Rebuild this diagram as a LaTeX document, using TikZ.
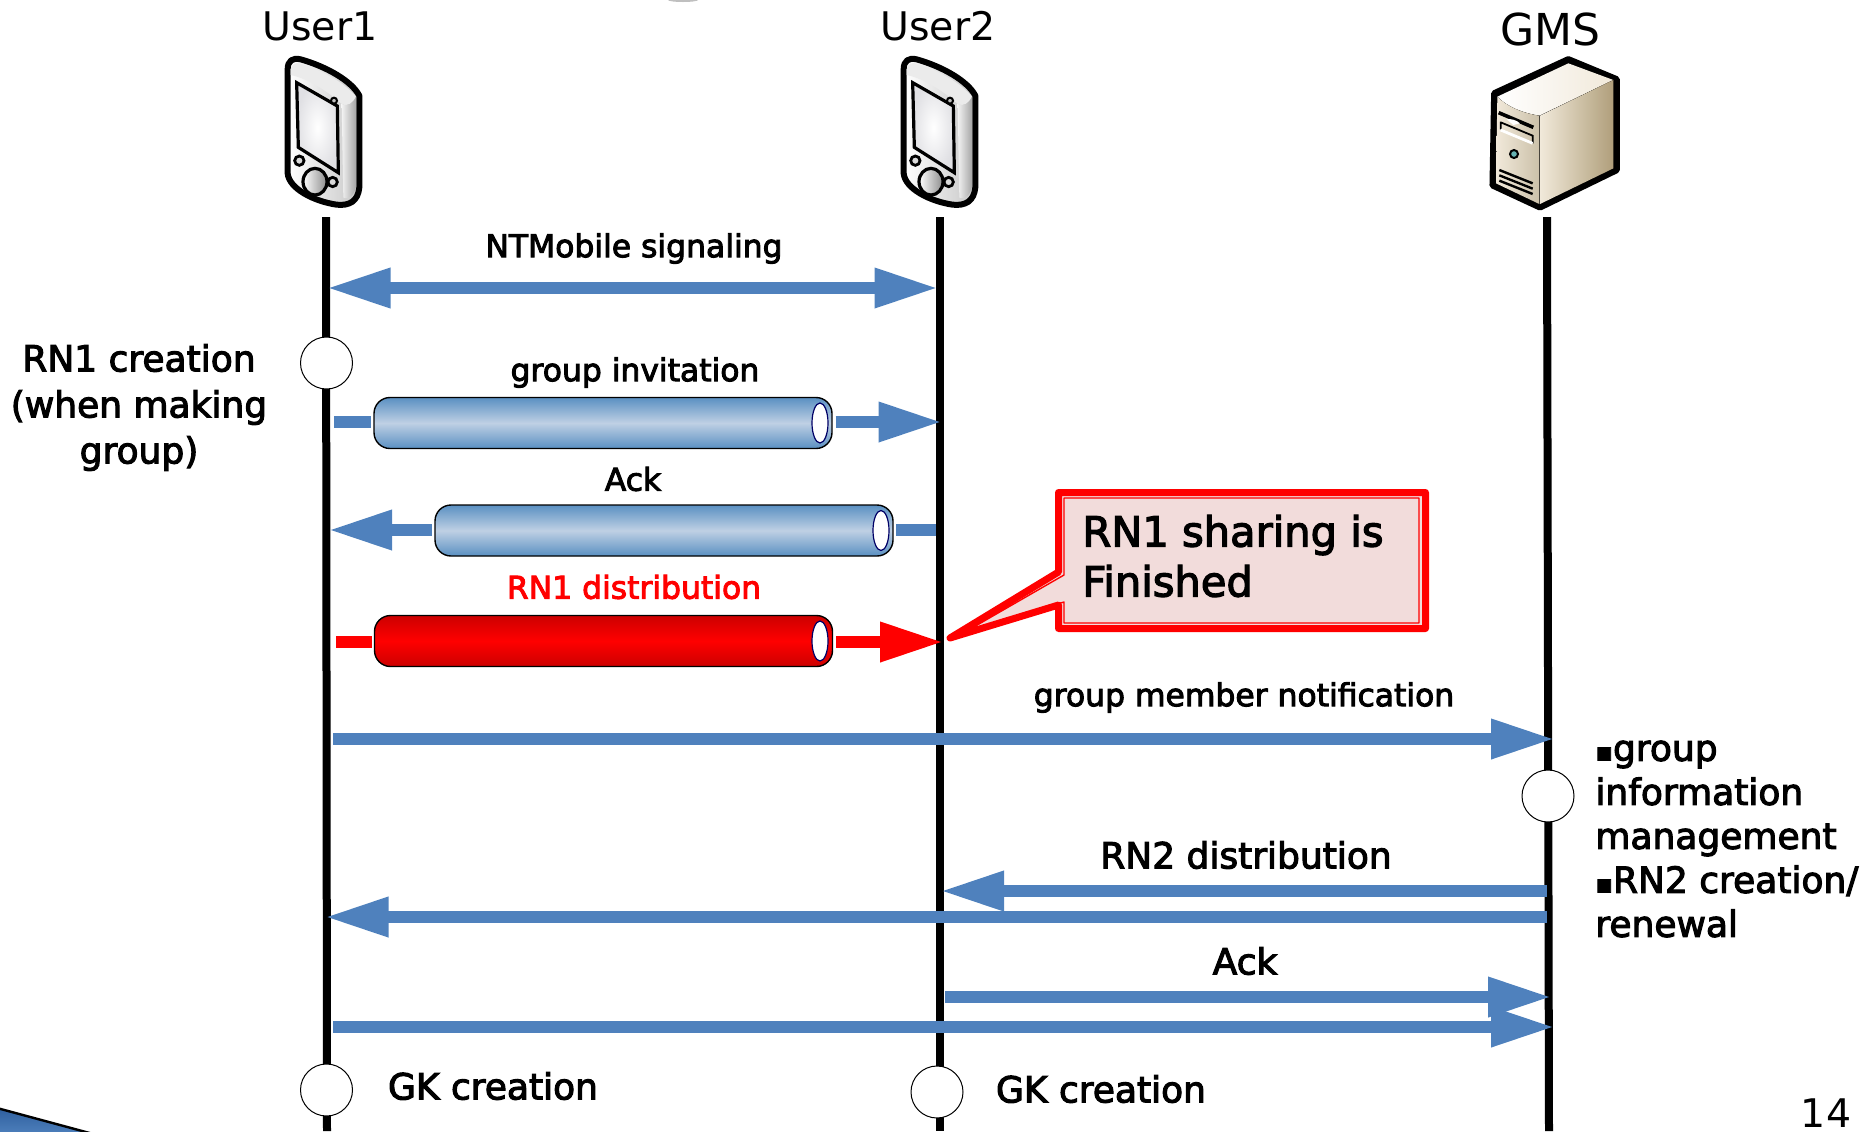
\documentclass[tikz,border=0pt]{standalone}
\usepackage{fontspec}
\setmainfont{DejaVu Sans}
\newfontfamily\lbl[FakeBold=3]{DejaVu Sans}
\usetikzlibrary{arrows.meta,shadings,shapes.geometric}
\definecolor{flowblue}{HTML}{4F81BD}
\definecolor{pipeblue}{HTML}{5A90C2}
\definecolor{pipemid}{HTML}{BFD0E4}
\definecolor{calloutfill}{HTML}{F2DCDB}
\definecolor{tanA}{HTML}{F1E9DA}
\definecolor{tanB}{HTML}{B09F7B}
\definecolor{cornerblue}{HTML}{2E5F9E}
\tikzset{
  >={Triangle[length=32pt,width=18.5pt]},
  lifeline/.style={line width=4pt,black},
  flow/.style={line width=6.3pt,flowblue,->},
  flowrev/.style={line width=6.3pt,flowblue,<-},
  flowtwo/.style={line width=6.3pt,flowblue,<->},
  flowplain/.style={line width=6.3pt,flowblue},
  redflow/.style={line width=6.3pt,red,->},
  redplain/.style={line width=6.3pt,red},
  pipe/.style={draw=black,line width=.7pt,rounded corners=8pt,minimum width=229pt,minimum height=25.5pt,inner sep=0pt,top color=pipeblue,bottom color=pipeblue,middle color=pipemid},
  redpipe/.style={pipe,top color=red!80!black,bottom color=red!80!black,middle color=red},
  pipeend/.style={draw=blue!40!black,line width=.6pt,fill=white,ellipse,minimum width=8pt,minimum height=20pt,inner sep=0pt},
  evt/.style={draw=black,line width=.5pt,fill=white,circle,minimum size=26pt,inner sep=0pt},
  txt/.style={inner sep=0pt,font=\lbl\fontsize{15.7pt}{17pt}\selectfont},
  big/.style={inner sep=0pt,font=\lbl\fontsize{18pt}{23pt}\selectfont},
  head/.style={inner sep=0pt,font=\fontsize{19.7pt}{20pt}\selectfont},
}
\newcommand{\smallbullet}{{\fontsize{13pt}{0pt}\selectfont ▪}}
\newcommand{\phoneicon}[1]{%
\begin{scope}[shift={(#1,0)},x=.16667pt,y=-.16667pt]
  \draw[line width=3pt,line join=round,left color=white,right color=black!22]
    (143,208) .. controls (143,182) and (158,172) .. (182,178) .. controls (260,200) and (335,243) .. (358,287) -- (358,562) .. controls (354,604) and (328,618) .. (290,614) .. controls (222,604) and (147,566) .. (143,520) -- cycle;
  \fill[white!92!black] (152,208) .. controls (157,190) and (167,188) .. (180,190) .. controls (250,212) and (318,252) .. (348,290) .. controls (338,310) and (325,320) .. (305,312) .. controls (260,270) and (200,235) .. (152,225) -- cycle;
  \shade[left color=white!95!black,right color=black!35] (305,312) .. controls (325,320) and (338,310) .. (348,290) -- (348,560) .. controls (343,588) and (325,598) .. (310,593) -- cycle;
  \draw[line width=1.6pt,inner color=white,outer color=blue!12!black!12] (170,248) -- (292,318) -- (295,518) -- (175,442) -- cycle;
  \draw[line width=1pt,fill=black!25] (282,302) circle[radius=9];
  \draw[line width=1.4pt,fill=black!15] (178,482) circle[radius=14];
  \draw[line width=1.4pt,fill=black!15] (278,546) circle[radius=14];
  \draw[line width=1.6pt,left color=white,right color=black!45] (225,545) ellipse[x radius=36,y radius=40];
\end{scope}}
\begin{document}
\begin{tikzpicture}[x=.5pt,y=-.5pt]
\useasboundingbox (0,0) rectangle (1875,1131);
\begin{scope}
\clip (0,0) rectangle (1875,1131);
\fill[black!25] (683,0) ellipse[x radius=15,y radius=2];
\draw[line width=1.2pt,black,top color=cornerblue,bottom color=flowblue] (-3,1108) -- (97,1135) -- (-3,1135) -- cycle;
\end{scope}
% lifelines
\coordinate (l1t) at (326,217); \coordinate (l1b) at (327,1131);
\coordinate (l2t) at (940,217); \coordinate (l2b) at (940,1131);
\coordinate (l3t) at (1547,217); \coordinate (l3b) at (1549,1131);
\draw[lifeline] (l1t) -- (l1b);
\draw[lifeline] (l2t) -- (l2b);
\draw[lifeline] (l3t) -- (l3b);
% heads
\node[head] (user1) at (320,26) {User1};
\node[head] (user2) at (938,26) {User2};
\node[head,font=\fontsize{22pt}{22pt}\selectfont] (gms) at (1550,29) {GMS};
\phoneicon{240}
\phoneicon{856}
\begin{scope}[shift={(1460,0)},x=.16667pt,y=-.16667pt]
  \draw[line width=3.2pt,line join=round,fill=black] (325,178) -- (470,238) -- (470,510) -- (240,622) -- (98,556) -- (103,280) -- cycle;
  \fill[left color=white,right color=tanA] (112,290) -- (325,190) -- (460,240) -- (238,347) .. controls (190,340) and (140,320) .. (112,290) -- cycle;
  \fill[left color=tanA,right color=tanB!65] (112,290) .. controls (140,320) and (190,340) .. (238,347) -- (238,612) -- (108,550) -- cycle;
  \fill[left color=tanA,right color=tanB] (240,347) -- (460,240) -- (460,505) -- (240,612) -- cycle;
  \draw[line width=1.8pt] (116,338) -- (220,382);
  \fill[white] (140,358) .. controls (150,355) and (170,360) .. (180,370) -- (160,375) -- cycle;
  \draw[line width=.9pt] (122,365) -- (122,388) (122,367) -- (218,407) (218,405) -- (218,430);
  \draw[white,line width=1.4pt] (122,390) -- (218,430);
  \draw[line width=1pt,fill=teal!60] (162,462) circle[radius=12];
  \draw[line width=1.2pt] (118,510) -- (218,550) (118,526) -- (218,566) (118,542) -- (218,582);
\end{scope}
% coordinates
\coordinate (sigL) at (326.5,288); \coordinate (sigR) at (938.5,288);
\coordinate (invL) at (334,422); \coordinate (invR) at (942.5,422);
\coordinate (ackL) at (328,530); \coordinate (ackR) at (936,530);
\coordinate (redL) at (336,642); \coordinate (redR) at (944,642);
\coordinate (gmL) at (333,739); \coordinate (gmR) at (1555,739);
\coordinate (rn2aR) at (1547,891); \coordinate (rn2aL) at (940,891);
\coordinate (rn2bR) at (1547,917); \coordinate (rn2bL) at (324.5,917);
\coordinate (ack2aL) at (945,997); \coordinate (ack2aR) at (1552,997);
\coordinate (ack2bL) at (333,1027); \coordinate (ack2bR) at (1555,1027);
% pipes
\node[pipe] (pipe1) at (603,423) {};
\node[pipe] (pipe2) at (664,530.5) {};
\node[redpipe] (pipe3) at (603.5,641) {};
\draw[flowplain,shorten >=1pt] (invL) -- (pipe1.west |- invL);
\draw[flow,shorten <=1.5pt] (pipe1.east |- invR) -- (invR);
\draw[flowrev,shorten >=1pt] (ackL) -- (pipe2.west |- ackL);
\draw[flowplain,shorten >=1pt] (ackR) -- (pipe2.east |- ackR);
\draw[redplain,shorten >=1pt] (redL) -- (pipe3.west |- redL);
\draw[redflow,shorten <=1.5pt] (pipe3.east |- redR) -- (redR);
\node[pipeend] (cap1) at (820,423) {};
\node[pipeend] (cap2) at (881,530.5) {};
\node[pipeend] (cap3) at (820,641) {};
% plain arrows
\draw[flowtwo] (sigL) -- (sigR);
\draw[flow] (gmL) -- (gmR);
\draw[flow] (rn2aR) -- (rn2aL);
\draw[flow] (rn2bR) -- (rn2bL);
\draw[flow] (ack2aL) -- (ack2aR);
\draw[flow] (ack2bL) -- (ack2bR);
% events
\node[evt] (e1) at (326.5,363) {};
\node[evt] (e2) at (1548,796) {};
\node[evt] (e3) at (326.5,1090) {};
\node[evt] (e4) at (937,1092) {};
% callout
\draw[red,line width=3.5pt,line join=round,fill=calloutfill]
  (1058.5,492.5) -- (1425.5,492.5) -- (1425.5,628.5) -- (1058.5,628.5) -- (1058.5,605) -- (950,638) -- (1058.5,572) -- cycle;
\draw[red,line width=.7pt,line join=round]
  (1064,498) -- (1419,498) -- (1419,623) -- (1064,623) -- (1064,602) -- (965,632) -- (1064,575) -- cycle;
\node[big,font=\lbl\fontsize{20.8pt}{25pt}\selectfont,anchor=west,align=left] (calltxt) at (1082,556) {RN1 sharing is\\Finished};
% labels
\node[txt] (t1) at (634,248.5) {NTMobile signaling};
\node[big,align=center] (t2) at (139,407.5) {RN1 creation\\(when making\\group)};
\node[txt] (t3) at (635,372.5) {group invitation};
\node[txt] (t4) at (633,479) {Ack};
\node[txt,text=red] (t5) at (634,587) {RN1 distribution};
\node[txt] (t6) at (1244,697.5) {group member notification};
\node[big,anchor=west,align=left,font=\lbl\fontsize{18pt}{22pt}\selectfont] (t7) at (1595,839) {\smallbullet group\\information\\management\\\smallbullet RN2 creation/\\renewal};
\node[big] (t8) at (1246,855) {RN2 distribution};
\node[big] (t9) at (1245,961) {Ack};
\node[big] (t10) at (493,1086) {GK creation};
\node[big] (t11) at (1101,1089) {GK creation};
\node[head] (pg) at (1826,1113.5) {14};
\end{tikzpicture}
\end{document}
